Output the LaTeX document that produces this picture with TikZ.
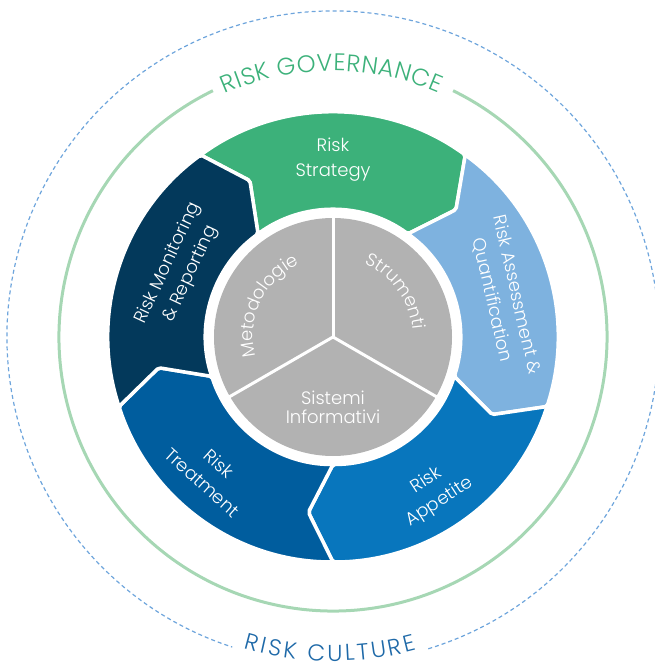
\documentclass[tikz,border=0pt]{standalone}
\usepackage{fontspec}
\setmainfont{Poppins}[UprightFont=* Light]
\usetikzlibrary{positioning,decorations.text}
\definecolor{riskgreen}{RGB}{60,177,122}
\definecolor{risklight}{RGB}{126,178,223}
\definecolor{riskmid}{RGB}{8,118,189}
\definecolor{riskdark}{RGB}{0,93,158}
\definecolor{risknavy}{RGB}{3,57,91}
\definecolor{riskgrey}{RGB}{178,178,178}
\definecolor{govline}{RGB}{166,215,180}
\definecolor{cultline}{RGB}{110,165,220}
\definecolor{culttext}{RGB}{30,105,168}

\begin{document}
\begin{tikzpicture}[x=1pt,y=1pt,
    seglabel/.style={text=white,align=center,inner sep=0pt,font=\fontsize{18}{25}\selectfont},
    greylabel/.style={text=white,align=center,inner sep=0pt,font=\fontsize{18}{19}\selectfont}]
    \newcommand{\ringout}{225}
    \newcommand{\ringin}{127.5}
    \newcommand{\ringmid}{177}
    \newcommand{\greyrad}{119}
    \useasboundingbox (-333,-331) rectangle (321,337);

    \draw[cultline, line width=1.2pt, dash pattern=on 4pt off 3pt]
      (287:326) arc[start angle=287, end angle=612, radius=326];
    \path[decorate, decoration={text along path, text align=fit to path, text color=culttext,
      text={|\fontsize{23}{23}\selectfont|RISK CULTURE}}]
      (254:324) arc[start angle=254, end angle=285, radius=324];

    \draw[govline, line width=3pt]
      (116:274) arc[start angle=116, end angle=424, radius=274];
    \path[decorate, decoration={text along path, text align=fit to path, text color=riskgreen,
      text={|\fontsize{24}{24}\selectfont|RISK GOVERNANCE}}]
      (114:266) arc[start angle=114, end angle=66.5, radius=266];

    \foreach \a/\colour in {126/riskgreen,54/risklight,-18/riskmid,-90/riskdark,198/risknavy}
      \filldraw[fill=\colour, draw=white, line width=3.5pt, rounded corners=2pt]
        (\a:\ringout) arc[start angle=\a, end angle=\a-72, radius=\ringout]
        -- (\a-80:\ringmid) -- (\a-72:\ringin)
        arc[start angle=\a-72, end angle=\a, radius=\ringin]
        -- (\a-8:\ringmid) -- cycle;

    \coordinate (hub) at (0,0);
    \fill[riskgrey] (hub) circle (\greyrad);
    \foreach \b in {90,210,330}
      \draw[white, line width=3pt] (hub) -- (\b:\greyrad+2);

    \node[seglabel] (strat) at (90:177) {Risk\\Strategy};
    \node[seglabel, rotate=-77] (assess) at (13:176) {Risk Assessment \&\\Quantification};
    \node[seglabel, rotate=33] (appet) at (-57:184) {Risk\\Appetite};
    \node[seglabel, rotate=-42] (treat) at (228:183) {Risk\\Treatment};
    \node[seglabel, rotate=65] (monit) at (156:168) {Risk Monitoring\\\& Reporting};

    \path[decorate, decoration={text along path, text align=center, text color=white,
      text={|\fontsize{18}{18}\selectfont|Metodologie}}]
      (205:80) arc[start angle=205, end angle=104, radius=80];
    \path[decorate, decoration={text along path, text align=center, text color=white,
      text={|\fontsize{18}{18}\selectfont|Strumenti}}]
      (76:80) arc[start angle=76, end angle=-4, radius=80];
    \node[greylabel] (sist) at (0,-70) {Sistemi\\Informativi};
\end{tikzpicture}
\end{document}
